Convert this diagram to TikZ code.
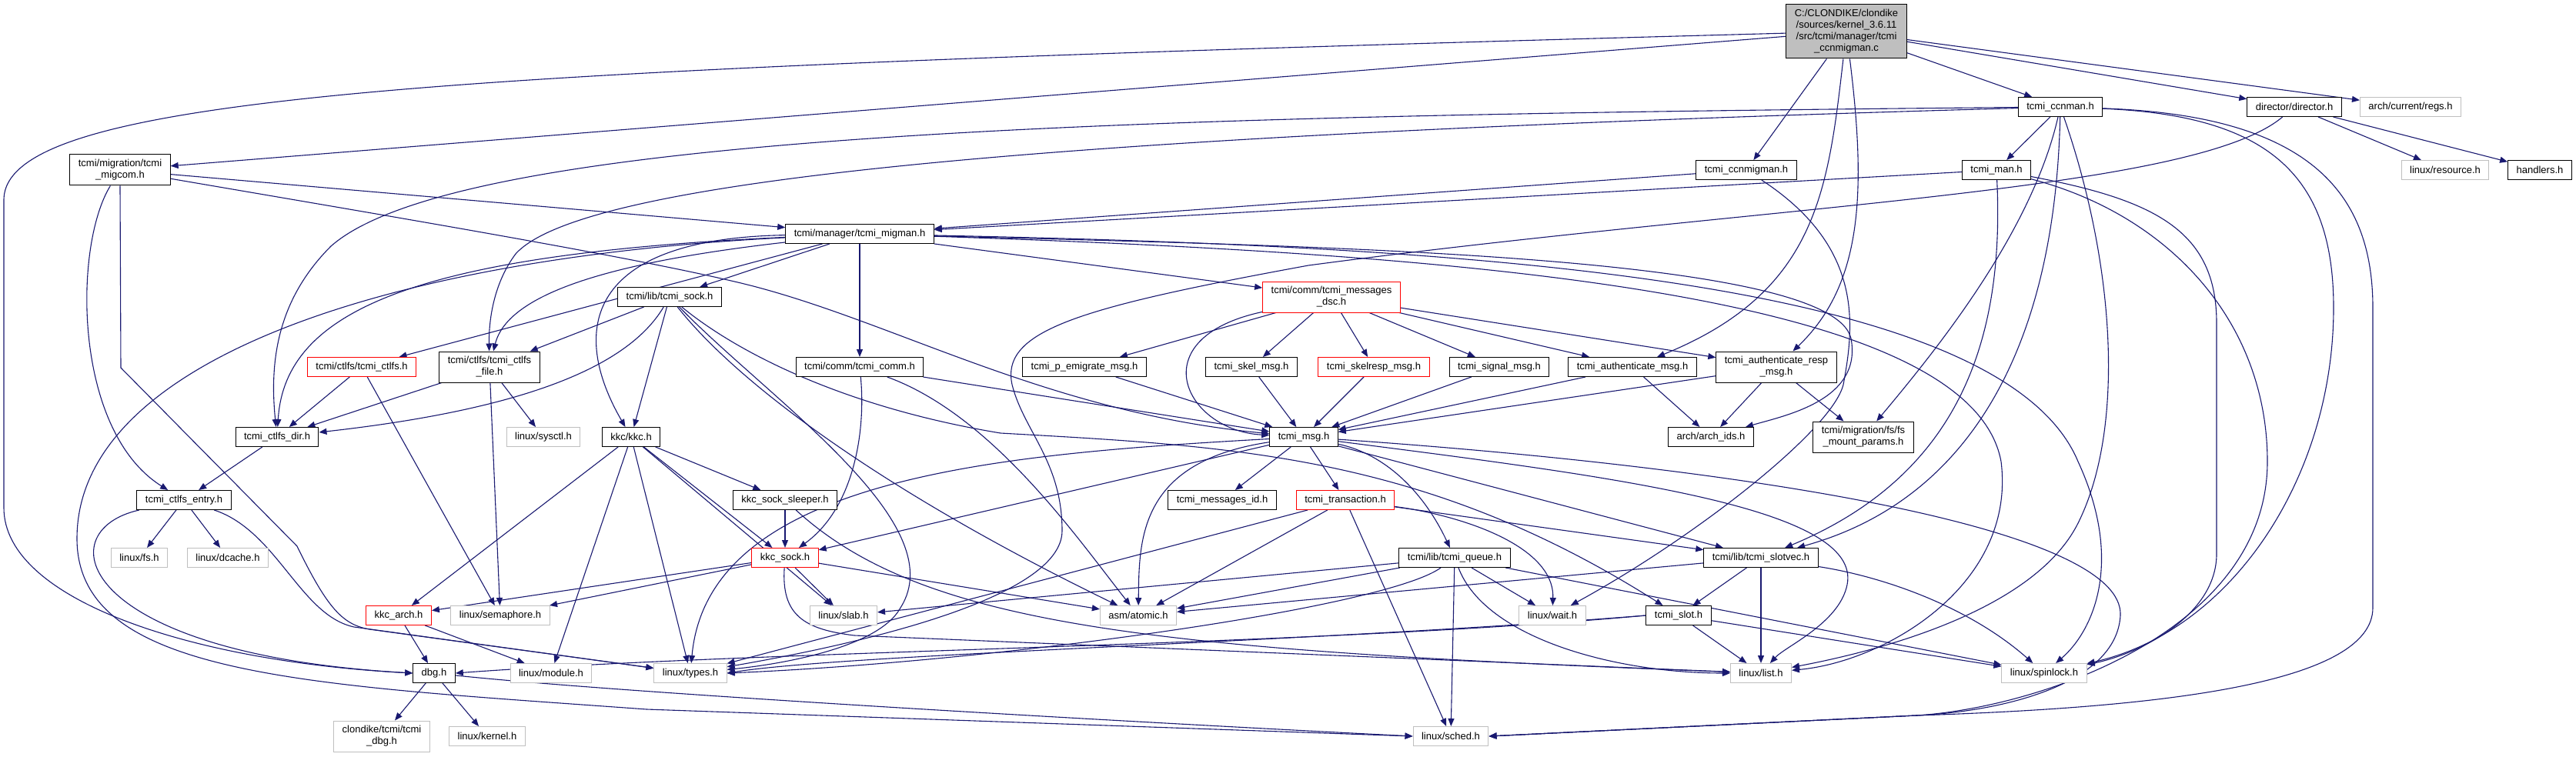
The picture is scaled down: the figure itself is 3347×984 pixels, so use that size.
\documentclass[tikz,border=0pt]{standalone}
\usepackage{fontspec}
\setmainfont{Liberation Sans}
\usetikzlibrary{arrows.meta}
\definecolor{edgeblue}{HTML}{191970}
\definecolor{offgray}{HTML}{BFBFBF}
\pgfdeclarelayer{edges}
\pgfsetlayers{edges,main}
\tikzset{
  hdr/.style={draw=black, line width=1pt, fill=white, inner xsep=11pt, inner ysep=0pt, minimum height=25pt, align=center, font=\fontsize{13}{15}\selectfont},
  redhdr/.style={hdr, draw=red},
  syshdr/.style={hdr, draw=offgray},
  inc/.style={draw=edgeblue, line width=1.1pt, -{Triangle[length=10pt,width=8pt]}}
}
\begin{document}
\begin{tikzpicture}[x=1pt, y=-1pt]
\useasboundingbox (0,0) rectangle (3347,984);
\node[hdr, fill=offgray, minimum height=70pt] (main) at (2399,41) {C:/CLONDIKE/clondike\\/sources/kernel\_3.6.11\\/src/tcmi/manager/tcmi\\\_ccnmigman.c};
\node[hdr, minimum height=40pt] (migcom) at (156,221) {tcmi/migration/tcmi\\\_migcom.h};
\node[hdr] (ccnmigman) at (2269,221) {tcmi\_ccnmigman.h};
\node[hdr] (ccnman) at (2677,139) {tcmi\_ccnman.h};
\node[hdr] (director) at (2981,139) {director/director.h};
\node[syshdr] (regs) at (3132,139) {arch/current/regs.h};
\node[hdr] (man) at (2594,221) {tcmi\_man.h};
\node[syshdr] (resource) at (3177,221) {linux/resource.h};
\node[hdr] (handlers) at (3300,221) {handlers.h};
\node[hdr] (migman) at (1117,304) {tcmi/manager/tcmi\_migman.h};
\node[hdr] (sock) at (870,386) {tcmi/lib/tcmi\_sock.h};
\node[redhdr, minimum height=40pt] (dsc) at (1730,386) {tcmi/comm/tcmi\_messages\\\_dsc.h};
\node[redhdr] (ctlfs) at (470,477) {tcmi/ctlfs/tcmi\_ctlfs.h};
\node[hdr, minimum height=40pt] (ctlfsfile) at (636,477) {tcmi/ctlfs/tcmi\_ctlfs\\\_file.h};
\node[hdr] (comm) at (1117,477) {tcmi/comm/tcmi\_comm.h};
\node[hdr] (emig) at (1409,477) {tcmi\_p\_emigrate\_msg.h};
\node[hdr] (skel) at (1626,477) {tcmi\_skel\_msg.h};
\node[redhdr] (skelresp) at (1785,477) {tcmi\_skelresp\_msg.h};
\node[hdr] (signal) at (1948,477) {tcmi\_signal\_msg.h};
\node[hdr] (auth) at (2121,477) {tcmi\_authenticate\_msg.h};
\node[hdr, minimum height=40pt] (authresp) at (2308,477) {tcmi\_authenticate\_resp\\\_msg.h};
\node[hdr] (ctlfsdir) at (360,568) {tcmi\_ctlfs\_dir.h};
\node[syshdr] (sysctl) at (706,568) {linux/sysctl.h};
\node[hdr] (kkc) at (820,568) {kkc/kkc.h};
\node[hdr] (msg) at (1694,568) {tcmi\_msg.h};
\node[hdr] (archids) at (2223,568) {arch/arch\_ids.h};
\node[hdr, minimum height=40pt] (fsmount) at (2421,568) {tcmi/migration/fs/fs\\\_mount\_params.h};
\node[hdr] (entry) at (239,650) {tcmi\_ctlfs\_entry.h};
\node[hdr] (sleeper) at (1020,650) {kkc\_sock\_sleeper.h};
\node[hdr] (msgid) at (1588,650) {tcmi\_messages\_id.h};
\node[redhdr] (trans) at (1748,650) {tcmi\_transaction.h};
\node[syshdr] (fs) at (181,725) {linux/fs.h};
\node[syshdr] (dcache) at (296,725) {linux/dcache.h};
\node[redhdr] (kkcsock) at (1020,725) {kkc\_sock.h};
\node[hdr] (queue) at (1890,725) {tcmi/lib/tcmi\_queue.h};
\node[hdr] (slotvec) at (2288,725) {tcmi/lib/tcmi\_slotvec.h};
\node[redhdr] (kkcarch) at (518,800) {kkc\_arch.h};
\node[syshdr] (sem) at (650,800) {linux/semaphore.h};
\node[syshdr] (slab) at (1096,800) {linux/slab.h};
\node[syshdr] (atomic) at (1479,800) {asm/atomic.h};
\node[syshdr] (wait) at (2017,800) {linux/wait.h};
\node[hdr] (slot) at (2181,800) {tcmi\_slot.h};
\node[hdr] (dbg) at (564,875) {dbg.h};
\node[syshdr] (module) at (716,875) {linux/module.h};
\node[syshdr] (types) at (897,875) {linux/types.h};
\node[syshdr] (list) at (2288,875) {linux/list.h};
\node[syshdr] (spinlock) at (2656,875) {linux/spinlock.h};
\node[syshdr, minimum height=40pt] (tdbg) at (496,957) {clondike/tcmi/tcmi\\\_dbg.h};
\node[syshdr] (kernel) at (633,957) {linux/kernel.h};
\node[syshdr] (sched) at (1885,957) {linux/sched.h};
\begin{pgfonlayer}{edges}
\foreach \a/\b in {main/ccnmigman, main/ccnman, main/director, main/regs, main/migcom,
    ccnmigman/migman, ccnman/man, man/migman, director/resource, director/handlers,
    migcom/migman, migman/comm, migman/sock, migman/dsc, migman/ctlfs,
    sock/ctlfsfile, sock/kkc, ctlfs/ctlfsdir, ctlfs/sem, ctlfsfile/ctlfsdir,
    ctlfsfile/sysctl, ctlfsfile/sem, ctlfsdir/entry, entry/fs, entry/dcache,
    kkc/kkcarch, kkc/kkcsock, kkc/sleeper, kkc/slab, kkc/types, kkc/module,
    sleeper/kkcsock, kkcsock/kkcarch, kkcsock/sem, kkcsock/slab, kkcsock/atomic,
    kkcarch/dbg, kkcarch/module, dbg/tdbg, dbg/kernel, comm/msg,
    dsc/emig, dsc/skel, dsc/skelresp, dsc/signal, dsc/auth, dsc/authresp,
    emig/msg, skel/msg, skelresp/msg, signal/msg, auth/msg, authresp/msg,
    auth/archids, authresp/archids, authresp/fsmount,
    msg/kkcsock, msg/msgid, msg/trans, msg/slotvec,
    trans/atomic, trans/types, trans/sched, trans/slotvec,
    queue/slab, queue/atomic, queue/wait, queue/sched, queue/spinlock,
    slotvec/slot, slotvec/list, slotvec/atomic, slot/list, slot/spinlock}
  \draw[inc] (\a) -- (\b);
\draw[inc] (main) .. controls (600,90) and (5,120) .. (5,260) -- (5,660) .. controls (5,780) and (250,860) .. (dbg.west);
\draw[inc] (main) .. controls (2375,250) and (2360,380) .. (auth);
\draw[inc] (main) .. controls (2425,250) and (2420,370) .. (authresp);
\draw[inc] (ccnmigman) .. controls (2420,320) and (2410,420) .. (2395,500) .. controls (2380,560) and (2200,700) .. (wait);
\draw[inc] (ccnman) .. controls (1500,150) and (600,170) .. (430,320) .. controls (360,390) and (350,470) .. (ctlfsdir);
\draw[inc] (ccnman) .. controls (1400,175) and (760,230) .. (670,330) .. controls (640,370) and (635,420) .. (ctlfsfile);
\draw[inc] (ccnman) .. controls (2640,300) and (2520,450) .. (fsmount);
\draw[inc] (ccnman) .. controls (2670,450) and (2560,650) .. (slotvec);
\draw[inc] (ccnman) .. controls (2750,350) and (2760,560) .. (2700,680) .. controls (2640,800) and (2420,850) .. (list);
\draw[inc] (ccnman) .. controls (2950,150) and (3032,230) .. (3032,400) .. controls (3032,620) and (2900,820) .. (spinlock);
\draw[inc] (ccnman) .. controls (3000,150) and (3083,250) .. (3083,400) -- (3083,790) .. controls (3083,890) and (2800,920) .. (2490,930) -- (sched.east);
\draw[inc] (man) .. controls (2605,450) and (2540,620) .. (slotvec);
\draw[inc] (man) .. controls (2800,260) and (2880,300) .. (2880,420) -- (2880,720) .. controls (2880,800) and (2780,850) .. (spinlock);
\draw[inc] (man) .. controls (2820,280) and (2946,420) .. (2946,600) .. controls (2946,820) and (2650,920) .. (2490,930) -- (sched.east);
\draw[inc] (director) .. controls (2850,250) and (2300,265) .. (1700,345) .. controls (1400,400) and (1300,430) .. (1315,500) .. controls (1330,560) and (1380,600) .. (1380,690) .. controls (1380,780) and (1100,840) .. (types);
\draw[inc] (migcom) .. controls (95,320) and (95,560) .. (entry);
\draw[inc] (migcom.south) -- (157,478) -- (386,710) .. controls (425,790) and (445,812) .. (480,818) -- (types);
\draw[inc] (migcom) .. controls (500,280) and (800,330) .. (950,365) .. controls (1150,410) and (1350,535) .. (msg);
\draw[inc] (migman) .. controls (500,335) and (100,470) .. (100,700) .. controls (100,880) and (400,890) .. (840,922) -- (sched.west);
\draw[inc] (migman) .. controls (800,340) and (660,380) .. (ctlfsfile);
\draw[inc] (migman) .. controls (550,330) and (370,400) .. (ctlfsdir);
\draw[inc] (migman) .. controls (760,310) and (740,430) .. (kkc);
\draw[inc] (migman) .. controls (1700,320) and (2380,330) .. (2405,440) .. controls (2420,520) and (2320,540) .. (archids);
\draw[inc] (migman) .. controls (1900,330) and (2560,380) .. (2600,600) .. controls (2620,760) and (2450,860) .. (list);
\draw[inc] (migman) .. controls (1900,320) and (2600,360) .. (2700,600) .. controls (2760,730) and (2720,820) .. (spinlock);
\draw[inc] (sock) .. controls (820,470) and (700,530) .. (ctlfsdir);
\draw[inc] (sock) .. controls (960,500) and (1150,640) .. (atomic);
\draw[inc] (sock) .. controls (1000,520) and (1240,680) .. (1170,790) .. controls (1140,845) and (1000,865) .. (types);
\draw[inc] (sock) .. controls (960,460) and (1100,530) .. (1300,563) .. controls (1600,580) and (1850,590) .. (slot);
\draw[inc] (entry) .. controls (60,690) and (100,850) .. (dbg.west);
\draw[inc] (entry) .. controls (360,690) and (390,800) .. (460,815) -- (types);
\draw[inc] (dbg) .. controls (800,900) and (1400,935) .. (sched.west);
\draw[inc] (comm) .. controls (1125,560) and (1110,660) .. (kkcsock);
\draw[inc] (comm) .. controls (1290,540) and (1400,700) .. (atomic);
\draw[inc] (dsc) .. controls (1480,440) and (1540,560) .. (msg);
\draw[inc] (msg) .. controls (1480,600) and (1480,700) .. (atomic);
\draw[inc] (msg) .. controls (1300,590) and (920,620) .. (types);
\draw[inc] (msg) .. controls (1800,590) and (1850,640) .. (queue);
\draw[inc] (msg) .. controls (2100,620) and (2420,660) .. (2400,760) .. controls (2390,810) and (2320,840) .. (list);
\draw[inc] (msg) .. controls (2300,610) and (2760,690) .. (2755,800) .. controls (2750,890) and (2600,925) .. (2490,930) -- (sched.east);
\draw[inc] (trans) .. controls (1900,670) and (2020,710) .. (wait);
\draw[inc] (kkcsock) .. controls (1015,800) and (1045,818) .. (1110,826) -- (list);
\draw[inc] (sleeper) .. controls (1200,815) and (1500,845) .. (list);
\draw[inc] (queue) .. controls (1930,830) and (2100,875) .. (list);
\draw[inc] (queue) .. controls (1800,790) and (1300,860) .. (types.east);
\draw[inc] (slotvec) .. controls (2450,750) and (2560,790) .. (spinlock);
\draw[inc] (slot.west) .. controls (1700,840) and (1000,845) .. (dbg.east);
\draw[inc] (slot.west) .. controls (1700,835) and (1100,850) .. (types.east);
\end{pgfonlayer}
\end{tikzpicture}
\end{document}
